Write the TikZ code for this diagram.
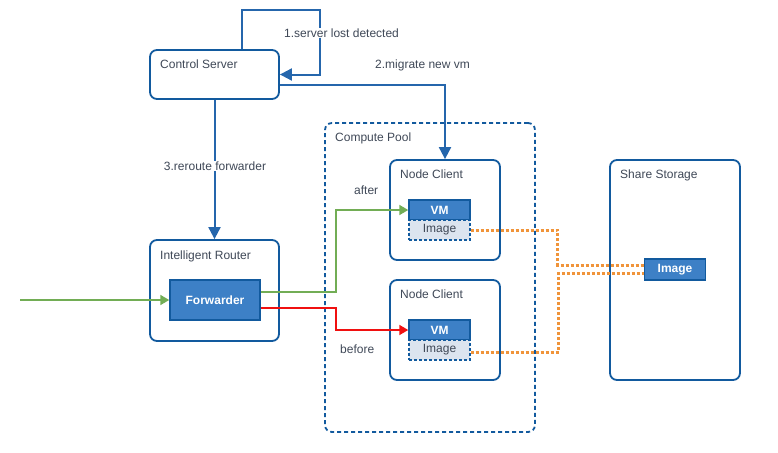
\documentclass[tikz,border=0pt]{standalone}
\usepackage{fontspec}
\setmainfont{Liberation Sans}
\usepackage{tikz}
\usetikzlibrary{arrows.meta,positioning}

\definecolor{edgeblue}{HTML}{125A9E}
\definecolor{lineblue}{HTML}{2566AC}
\definecolor{boxblue}{HTML}{3D80C6}
\definecolor{imgfill}{HTML}{DCE4EF}
\definecolor{txtgray}{HTML}{3F4857}
\definecolor{arrgreen}{HTML}{72AD55}
\definecolor{arrred}{HTML}{F01010}
\definecolor{dotorange}{HTML}{F0943A}

\begin{document}
\begin{tikzpicture}[
  x=1pt, y=-1pt,
  font=\fontsize{12}{14}\selectfont,
  frame/.style={draw=edgeblue, line width=1.8pt, rounded corners=7pt,
                inner sep=0pt, fill=white},
  pool/.style={draw=edgeblue, line width=1.8pt, rounded corners=7pt,
               dash pattern=on 4pt off 3pt, inner sep=0pt},
  title/.style={anchor=base west, text=txtgray, inner sep=0pt},
  lbl/.style={text=txtgray, inner sep=1pt, fill=white},
  solidbox/.style={draw=edgeblue, line width=1.5pt, fill=boxblue, text=white,
                   font=\fontsize{12}{14}\selectfont\bfseries, inner sep=0pt},
  imgbox/.style={draw=edgeblue, line width=1.3pt, dash pattern=on 3pt off 2pt,
                 fill=imgfill, text=txtgray, inner sep=0pt,
                 minimum width=61pt, minimum height=20pt},
  arr/.style={-{Triangle[length=12pt,width=12pt]}, line width=2pt, draw=lineblue},
  garr/.style={-{Triangle[length=9pt,width=10pt]}, line width=1.8pt, draw=arrgreen},
  rarr/.style={-{Triangle[length=9pt,width=10pt]}, line width=1.8pt, draw=arrred},
  dots/.style={draw=dotorange, line width=3pt, dash pattern=on 3pt off 2pt}
]
\useasboundingbox (0,0) rectangle (778,452);

% containers
\node[frame, minimum width=129pt, minimum height=49pt] (cs) at (214.5,74.5) {};
\node[frame, minimum width=129pt, minimum height=101pt] (ir) at (214.5,290.5) {};
\node[pool, minimum width=210pt, minimum height=309pt] (cp) at (430,277.5) {};
\node[frame, minimum width=110pt, minimum height=100pt] (nc1) at (445,210) {};
\node[frame, minimum width=110pt, minimum height=100pt] (nc2) at (445,330) {};
\node[frame, minimum width=130pt, minimum height=220pt] (ss) at (675,270) {};

% titles
\node[title] (cst) at (160,68) {Control Server};
\node[title] (irt) at (160,259) {Intelligent Router};
\node[title] (cpt) at (335,141) {Compute Pool};
\node[title] (nc1t) at (400,178) {Node Client};
\node[title] (nc2t) at (400,298) {Node Client};
\node[title] (sst) at (620,178) {Share Storage};

% inner boxes
\node[solidbox, minimum width=90pt, minimum height=40pt] (fw) at (215,300) {Forwarder};
\node[solidbox, minimum width=61pt, minimum height=20pt] (vm1) at (439.5,210) {VM};
\node[imgbox] (img1) at (439.5,230) {Image};
\node[solidbox, minimum width=61pt, minimum height=20pt] (vm2) at (439.5,330) {VM};
\node[imgbox] (img2) at (439.5,350) {Image};
\node[solidbox, minimum width=61pt, minimum height=21pt] (simg) at (675,269.5) {Image};

% control flow
\draw[arr] ([xshift=27.5pt]cs.north) |- (320,10) |- (cs.east);
\node[lbl, anchor=west] (l1) at (283,33) {1.server lost detected};
\draw[arr] ([yshift=-10.5pt]cs.east) -| (nc1.north);
\node[lbl, anchor=west, fill=none] (l2) at (374,65) {2.migrate new vm};
\draw[arr] (cs.south) -- (ir.north);
\node[lbl] (l3) at (215,166) {3.reroute forwarder};

% traffic
\coordinate (src) at (20,300);
\draw[garr] (src) -- (fw.west);
\draw[garr] ([yshift=8pt]fw.east) -- ++(75,0) |- (vm1.west);
\draw[rarr] ([yshift=-8pt]fw.east) -- ++(75,0) |- (vm2.west);
\node[lbl, anchor=west, fill=none] (after) at (353,190) {after};
\node[lbl, anchor=west, fill=none] (before) at (339,349) {before};

% image links
\draw[dots] (img1.east) -- ++(87,0) |- ([yshift=4.5pt]simg.west);
\draw[dots] ([yshift=-2pt]img2.east) -- ++(88,0) |- ([yshift=-3.5pt]simg.west);
\end{tikzpicture}
\end{document}
